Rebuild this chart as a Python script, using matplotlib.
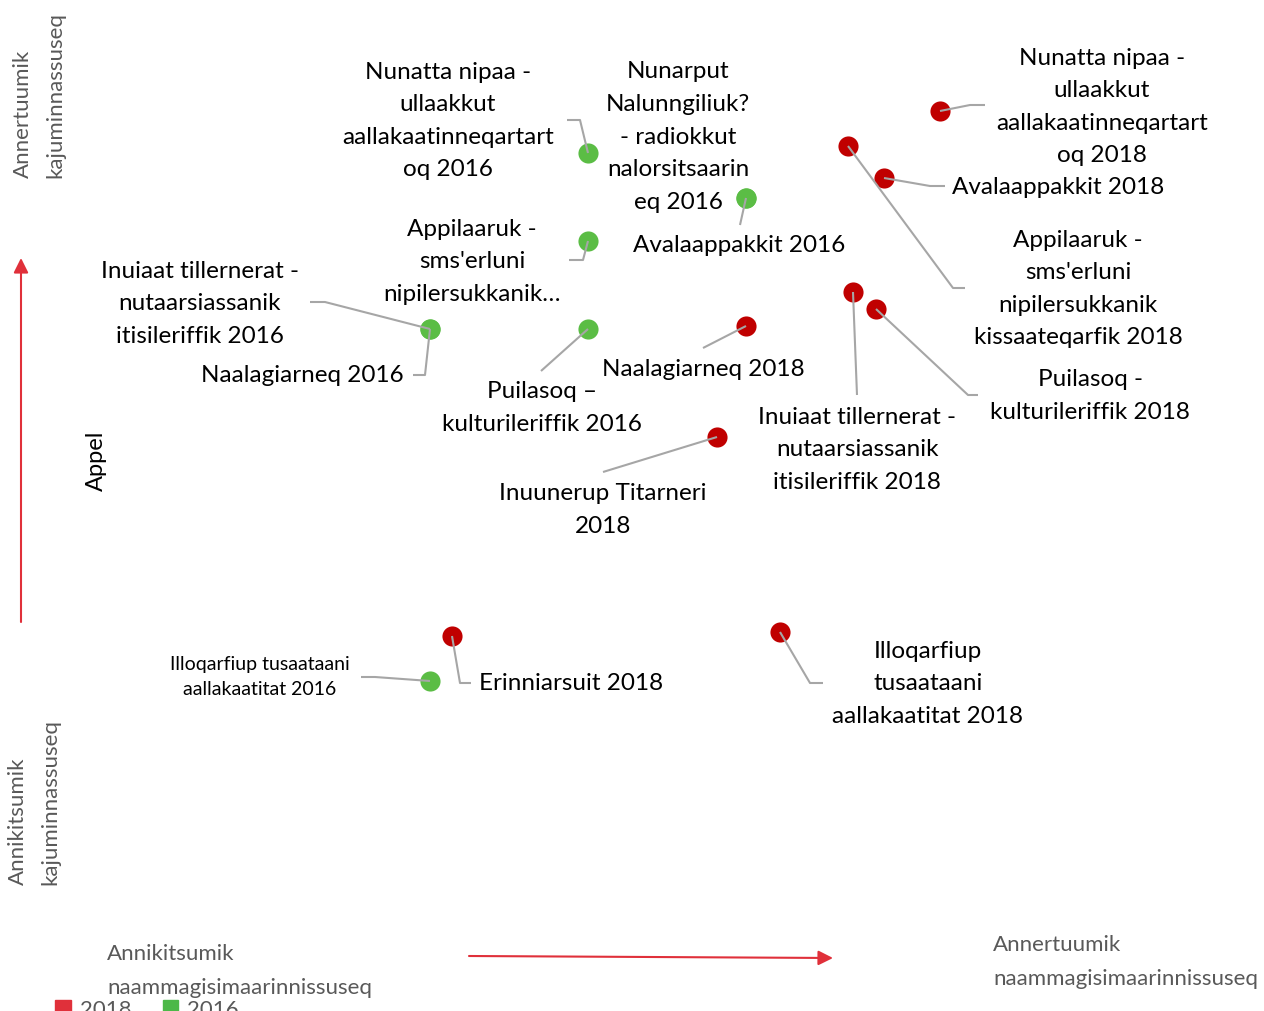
import matplotlib.pyplot as plt
from matplotlib.patches import Patch

# Naammagisimaarinnissuseq (x) aamma Appel (y)
labels_2016 = [
    "Nunatta nipaa -\nullaakkut\naallakaatinneqartart\noq 2016",
    "Nunarput\nNalunngiliuk?\n- radiokkut\nnalorsitsaarin\neq 2016",
    "Avalaappakkit 2016",
    "Appilaaruk -\nsms'erluni\nnipilersukkanik…",
    "Inuiaat tillernerat -\nnutaarsiassanik\nitisileriffik 2016",
    "Naalagiarneq 2016",
    "Puilasoq –\nkulturileriffik 2016",
    "Illoqarfiup tusaataani\naallakaatitat 2016",
]
x_2016 = [588, 746, 746, 588, 430, 430, 588, 430]
y_2016 = [858, 813, 813, 770, 682, 682, 682, 330]

labels_2018 = [
    "Nunatta nipaa -\nullaakkut\naallakaatinneqartart\noq 2018",
    "Avalaappakkit 2018",
    "Appilaaruk -\nsms'erluni\nnipilersukkanik\nkissaateqarfik 2018",
    "Inuiaat tillernerat -\nnutaarsiassanik\nitisileriffik 2018",
    "Puilasoq -\nkulturileriffik 2018",
    "Naalagiarneq 2018",
    "Inuunerup Titarneri\n2018",
    "Erinniarsuit 2018",
    "Illoqarfiup\ntusaataani\naallakaatitat 2018",
]
x_2018 = [940, 884, 848, 853, 876, 746, 717, 452, 780]
y_2018 = [900, 833, 865, 719, 702, 685, 574, 375, 379]

# label placement: text center, leader path (elbow/end), font size
pos_2016 = [(448, 890), (678, 874), (739, 765), (472, 749), (200, 707),
            (302, 635), (542, 603), (260, 334)]
lead_2016 = [[(580, 891), (567, 891)], [], [(740, 786)], [(583, 751), (569, 751)],
             [(325, 709), (310, 709)], [(425, 636), (413, 636)], [(541, 640)],
             [(375, 334), (361, 334)]]
size_2016 = [17.5, 17.5, 17.5, 17.5, 17.5, 17.5, 17.5, 14]

pos_2018 = [(1102, 904), (1058, 823), (1078, 722), (857, 561), (1090, 615),
            (703, 641), (603, 501), (571, 328), (928, 327)]
lead_2018 = [[(970, 906), (985, 906)], [(930, 825), (945, 825)], [(953, 723), (965, 723)],
             [(857, 616)], [(968, 616), (978, 616)], [(703, 663)], [(603, 539)],
             [(460, 328), (471, 328)], [(810, 328), (823, 328)]]

red = '#c00000'
green = '#5bbd45'
arrow_red = '#e0303a'
grey_txt = '#595959'
lead_col = '#a6a6a6'

plt.rcParams['font.family'] = ['Lato', 'DejaVu Sans']

fig = plt.figure(figsize=(12.64, 10.11), dpi=100)
ax = fig.add_axes([0, 0, 1, 1])
ax.set_xlim(0, 1264)
ax.set_ylim(0, 1011)
ax.axis('off')

ax.scatter(x_2016, y_2016, s=210, color=green, zorder=2, linewidths=0)
ax.scatter(x_2018, y_2018, s=210, color=red, zorder=2, linewidths=0)

def labels(xs, ys, texts, pos, leads, sizes):
    for x, y, t, p, lead, fs in zip(xs, ys, texts, pos, leads, sizes):
        ls = 1.68 if fs > 15 else 1.62
        ax.text(p[0], p[1], t, ha='center', va='center', fontsize=fs,
                linespacing=ls, color='black', zorder=4)
        if lead:
            pts = [(x, y)] + lead
            ax.plot([q[0] for q in pts], [q[1] for q in pts], color=lead_col,
                    lw=1.5, zorder=3, solid_capstyle='butt')

labels(x_2016, y_2016, labels_2016, pos_2016, lead_2016, size_2016)
labels(x_2018, y_2018, labels_2018, pos_2018, lead_2018, [17.5] * 9)

# akser
ax.annotate('', xy=(21, 753), xytext=(21, 389),
            arrowprops=dict(arrowstyle='-|>', color=arrow_red, lw=1.5,
                            mutation_scale=22, shrinkA=0, shrinkB=0))
ax.annotate('', xy=(833, 53), xytext=(469, 55),
            arrowprops=dict(arrowstyle='-|>', color=arrow_red, lw=1.5,
                            mutation_scale=22, shrinkA=0, shrinkB=0))

ax.text(39, 833, "Annertuumik\nkajuminnassuseq", rotation=90, ha='left', va='center',
        fontsize=16, color=grey_txt, linespacing=1.75, rotation_mode='anchor')
ax.text(34, 126, "Annikitsumik\nkajuminnassuseq", rotation=90, ha='left', va='center',
        fontsize=16, color=grey_txt, linespacing=1.75, rotation_mode='anchor')
ax.text(96, 550, "Appel", rotation=90, ha='center', va='center', fontsize=17, color='black')

ax.text(107, 40, "Annikitsumik\nnaammagisimaarinnissuseq", ha='left', va='center',
        fontsize=16, color=grey_txt, linespacing=1.85)
ax.text(993, 49, "Annertuumik\nnaammagisimaarinnissuseq", ha='left', va='center',
        fontsize=16, color=grey_txt, linespacing=1.85)

handles = [Patch(color=arrow_red, label='2018'), Patch(color='#4cb848', label='2016')]
fig.legend(handles=handles, loc='upper left', bbox_to_anchor=(0.028, 0.031), ncol=2,
           frameon=False, fontsize=16, labelcolor=grey_txt, handlelength=0.7,
           handleheight=0.7, handletextpad=0.4, columnspacing=1.4)

fig.savefig('out.png', dpi=100)
